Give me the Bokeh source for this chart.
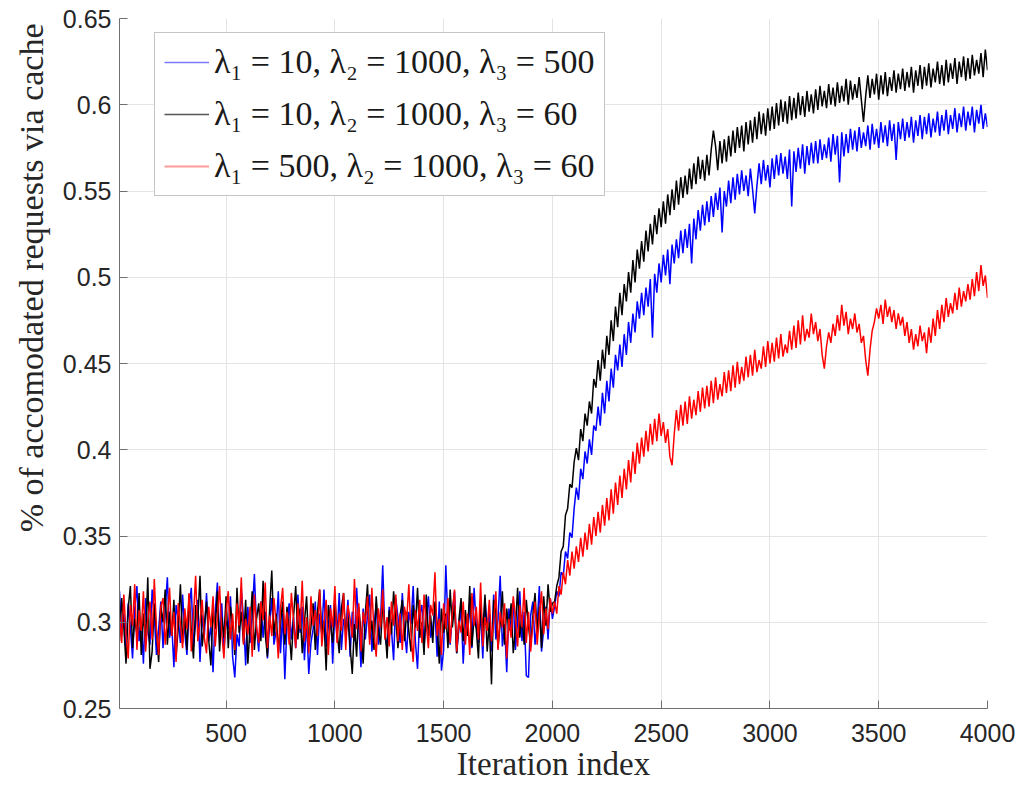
import numpy as np
from bokeh.plotting import figure
from bokeh.models import Legend, LegendItem, FixedTicker, Title
from bokeh.embed import file_html
from bokeh.resources import INLINE

# Iteration index (sampled every 10 iterations)
iterations = list(range(10, 4001, 10))

# lambda1=10, lambda2=1000, lambda3=500 (blue)
blue_vals = [
    .318, .292, .305, .283, .311, .297, .279, .308, .321, .289,
    .301, .276, .314, .295, .287, .319, .303, .281, .296, .312,
    .285, .307, .326, .291, .299, .274, .310, .302, .288, .316,
    .294, .281, .309, .320, .286, .300, .313, .277, .304, .292,
    .317, .289, .298, .271, .306, .323, .290, .311, .284, .301,
    .296, .315, .280, .268, .293, .286, .319, .302, .275, .309,
    .288, .304, .328, .297, .283, .312, .291, .306, .279, .300,
    .314, .287, .295, .318, .282, .305, .267, .299, .311, .290,
    .303, .285, .316, .294, .309, .278, .301, .270, .288, .296,
    .312, .281, .305, .293, .319, .286, .298, .310, .276, .307,
    .291, .317, .284, .302, .295, .313, .280, .306, .289, .320,
    .298, .274, .308, .290, .304, .316, .283, .297, .311, .287,
    .301, .333, .292, .285, .309, .296, .278, .314, .303, .288,
    .317, .295, .282, .306, .299, .321, .289, .273, .304, .310,
    .286, .302, .315, .291, .297, .308, .280, .312, .272, .284,
    .333, .299, .287, .305, .318, .282, .296, .309, .276, .301,
    .293, .311, .285, .320, .298, .288, .306, .279, .314, .297,
    .305, .283, .316, .290, .302, .327, .286, .299, .271, .308,
    .295, .313, .284, .301, .318, .289, .306, .269, .268, .304,
    .312, .287, .299, .321, .283, .296, .309, .290, .314, .302,
    .309, .318, .315, .329, .327, .341, .337, .352, .349, .366,
    .378, .371, .389, .383, .399, .392, .406, .397, .414, .411,
    .425, .414, .433, .421, .440, .428, .447, .436, .455, .446,
    .461, .448, .467, .455, .474, .462, .479, .468, .486, .476,
    .491, .478, .494, .483, .499, .465, .502, .491, .508, .497,
    .513, .501, .516, .496, .519, .508, .522, .511, .527, .514,
    .528, .517, .531, .508, .534, .522, .539, .527, .542, .530,
    .544, .532, .547, .535, .549, .539, .552, .526, .550, .541,
    .556, .543, .558, .545, .560, .548, .562, .550, .559, .547,
    .563, .551, .537, .553, .566, .554, .568, .556, .565, .552,
    .569, .557, .571, .559, .572, .560, .570, .557, .574, .541,
    .573, .561, .575, .563, .577, .560, .576, .565, .578, .566,
    .579, .566, .580, .568, .577, .569, .581, .567, .583, .571,
    .582, .555, .584, .570, .583, .572, .586, .574, .585, .573,
    .587, .575, .584, .576, .588, .574, .589, .577, .586, .575,
    .590, .578, .588, .576, .591, .579, .589, .568, .590, .580,
    .592, .579, .590, .581, .593, .578, .591, .582, .594, .580,
    .593, .583, .595, .581, .592, .584, .596, .582, .594, .585,
    .597, .583, .594, .586, .598, .584, .595, .587, .599, .585,
    .596, .588, .599, .584, .597, .589, .600, .586, .595, .587,
]

# lambda1=10, lambda2=1000, lambda3=60 (black)
black_vals = [
    .289, .314, .297, .276, .308, .321, .285, .302, .293, .317,
    .281, .305, .290, .326, .273, .283, .311, .294, .277, .309,
    .300, .319, .287, .306, .292, .313, .280, .297, .322, .288,
    .304, .284, .316, .295, .279, .310, .301, .327, .286, .298,
    .312, .290, .275, .307, .296, .318, .283, .303, .291, .315,
    .285, .309, .299, .281, .320, .294, .306, .288, .313, .276,
    .297, .318, .284, .302, .311, .289, .324, .293, .280, .307,
    .330, .292, .305, .283, .299, .312, .287, .309, .295, .278,
    .303, .321, .290, .308, .282, .300, .315, .286, .297, .311,
    .284, .306, .319, .293, .301, .272, .310, .298, .288, .314,
    .295, .282, .308, .317, .291, .303, .286, .270, .299, .280,
    .309, .294, .276, .305, .322, .290, .301, .284, .315, .296,
    .287, .311, .298, .279, .307, .293, .318, .302, .285, .304,
    .313, .289, .306, .295, .283, .310, .297, .320, .291, .300,
    .281, .316, .292, .304, .288, .312, .299, .276, .308, .294,
    .305, .285, .319, .297, .310, .282, .301, .314, .289, .307,
    .292, .321, .286, .303, .296, .279, .311, .294, .316, .283,
    .300, .264, .313, .306, .285, .299, .318, .287, .308, .295,
    .311, .282, .296, .320, .291, .304, .287, .313, .298, .286,
    .303, .317, .294, .309, .285, .315, .298, .322, .306, .311,
    .312, .321, .326, .341, .344, .362, .366, .380, .378, .393,
    .401, .394, .412, .405, .421, .414, .428, .421, .441, .436,
    .452, .440, .458, .447, .466, .455, .475, .463, .483, .471,
    .491, .478, .496, .486, .503, .491, .510, .497, .516, .505,
    .521, .509, .527, .515, .531, .519, .536, .525, .540, .529,
    .544, .531, .548, .536, .551, .539, .556, .542, .558, .546,
    .559, .548, .563, .551, .566, .554, .570, .557, .568, .556,
    .571, .559, .574, .585, .576, .562, .579, .566, .580, .567,
    .582, .570, .585, .572, .587, .575, .588, .573, .590, .577,
    .591, .578, .593, .580, .596, .583, .595, .582, .598, .585,
    .599, .586, .601, .588, .603, .590, .602, .589, .605, .591,
    .604, .592, .607, .594, .605, .593, .608, .596, .606, .595,
    .609, .597, .611, .599, .608, .598, .612, .600, .610, .599,
    .613, .601, .611, .602, .615, .600, .614, .603, .612, .604,
    .616, .603, .590, .605, .617, .604, .615, .606, .618, .603,
    .617, .606, .619, .605, .616, .608, .620, .607, .618, .609,
    .621, .608, .619, .610, .622, .607, .620, .611, .623, .609,
    .622, .611, .624, .610, .621, .613, .625, .612, .623, .611,
    .626, .613, .624, .615, .627, .612, .625, .616, .628, .614,
    .627, .615, .629, .617, .626, .618, .630, .616, .632, .620,
]

# lambda1=500, lambda2=1000, lambda3=60 (red)
red_vals = [
    .305, .288, .316, .293, .279, .310, .298, .322, .284, .307,
    .295, .318, .283, .301, .312, .290, .325, .296, .281, .309,
    .314, .287, .302, .320, .292, .306, .277, .311, .299, .285,
    .308, .296, .317, .283, .304, .327, .289, .300, .313, .291,
    .282, .309, .297, .315, .286, .303, .321, .294, .279, .306,
    .318, .290, .305, .284, .311, .298, .326, .287, .302, .293,
    .309, .280, .316, .297, .288, .312, .301, .323, .285, .304,
    .292, .314, .299, .279, .308, .320, .293, .306, .287, .317,
    .301, .285, .311, .296, .324, .289, .303, .282, .315, .298,
    .307, .292, .319, .286, .300, .313, .281, .308, .297, .321,
    .288, .305, .295, .317, .284, .310, .302, .291, .325, .296,
    .311, .283, .306, .299, .315, .287, .320, .294, .280, .308,
    .297, .319, .290, .303, .286, .312, .298, .316, .289, .305,
    .284, .309, .301, .322, .293, .277, .307, .295, .313, .288,
    .316, .299, .285, .310, .304, .329, .292, .302, .281, .311,
    .296, .314, .288, .306, .319, .283, .301, .294, .312, .287,
    .305, .281, .317, .298, .309, .290, .323, .286, .303, .295,
    .313, .289, .300, .318, .284, .306, .297, .311, .279, .302,
    .291, .315, .303, .286, .310, .297, .320, .288, .306, .283,
    .299, .312, .287, .304, .318, .293, .308, .296, .314, .305,
    .312, .305, .321, .316, .329, .322, .336, .327, .341, .331,
    .344, .335, .349, .338, .352, .342, .357, .345, .361, .350,
    .364, .352, .368, .356, .372, .359, .377, .363, .381, .368,
    .385, .372, .389, .377, .394, .381, .399, .386, .404, .392,
    .407, .396, .411, .399, .415, .403, .418, .405, .421, .408,
    .416, .404, .412, .396, .391, .409, .423, .411, .426, .414,
    .428, .415, .431, .418, .429, .420, .434, .422, .436, .424,
    .437, .425, .440, .427, .442, .429, .438, .431, .445, .433,
    .446, .434, .449, .436, .451, .438, .448, .440, .454, .442,
    .455, .443, .458, .445, .452, .447, .460, .448, .463, .450,
    .462, .451, .465, .453, .467, .454, .461, .456, .469, .458,
    .472, .459, .475, .461, .478, .463, .470, .465, .479, .467,
    .474, .463, .470, .455, .447, .460, .468, .462, .473, .466,
    .478, .469, .484, .472, .480, .467, .476, .470, .479, .468,
    .473, .462, .466, .452, .443, .458, .469, .474, .482, .476,
    .484, .473, .487, .477, .483, .474, .481, .470, .479, .472,
    .477, .466, .474, .462, .470, .458, .467, .460, .472, .463,
    .468, .456, .471, .462, .476, .466, .481, .470, .484, .474,
    .488, .477, .485, .479, .491, .481, .494, .483, .492, .486,
    .496, .487, .499, .489, .503, .492, .507, .495, .501, .488,
]

legend_labels = [
    "λ₁ = 10, λ₂ = 1000, λ₃ = 500",
    "λ₁ = 10, λ₂ = 1000, λ₃ = 60",
    "λ₁ = 500, λ₂ = 1000, λ₃ = 60",
]
x_ticks = [500, 1000, 1500, 2000, 2500, 3000, 3500, 4000]
y_ticks = [0.25, 0.3, 0.35, 0.4, 0.45, 0.5, 0.55, 0.6, 0.65]
y_tick_labels = ["0.25", "0.3", "0.35", "0.4", "0.45", "0.5", "0.55", "0.6", "0.65"]

p = figure(width=1015, height=784, x_range=(10, 4000), y_range=(0.25, 0.65),
           output_backend="svg", toolbar_location=None,
           min_border_left=118, min_border_right=28, min_border_top=18,
           min_border_bottom=76)
p.outline_line_color = None
p.background_fill_color = "white"

p.line(iterations, blue_vals, line_color="#0000ff", line_width=1.5)
p.line(iterations, black_vals, line_color="#000000", line_width=1.5)
p.line(iterations, red_vals, line_color="#ff0000", line_width=1.5)

# legend samples (thin, light as in the original); no visible data
nan_pt = np.array([np.nan])
l_blue = p.line(np.array([1.0]), nan_pt, line_color="#7a7aff", line_width=1.5)
l_black = p.line(np.array([1.0]), nan_pt, line_color="#555555", line_width=1.5)
l_red = p.line(np.array([1.0]), nan_pt, line_color="#ff9a9a", line_width=2)

legend = Legend(items=[LegendItem(label=legend_labels[0], renderers=[l_blue]),
                       LegendItem(label=legend_labels[1], renderers=[l_black]),
                       LegendItem(label=legend_labels[2], renderers=[l_red])],
                location=(35, 512))
legend.border_line_color = "#8a8a8a"
legend.border_line_width = 1
legend.background_fill_color = "white"
legend.background_fill_alpha = 1.0
legend.label_text_font = "Liberation Serif"
legend.label_text_font_size = "34px"
legend.label_text_color = "#1a1a1a"
legend.glyph_width = 45
legend.glyph_height = 40
legend.label_height = 40
legend.spacing = 12
legend.padding = 9
legend.margin = 0
legend.label_standoff = 5
p.add_layout(legend)

p.xaxis.ticker = FixedTicker(ticks=x_ticks)
p.yaxis.ticker = FixedTicker(ticks=y_ticks)
p.yaxis.major_label_overrides = {t: s for t, s in zip(y_ticks, y_tick_labels)}
p.xgrid.ticker = FixedTicker(ticks=x_ticks)
p.ygrid.ticker = FixedTicker(ticks=y_ticks)
for g in (p.xgrid, p.ygrid):
    g.grid_line_color = "#e4e4e4"
    g.grid_line_width = 1

for ax in (p.xaxis, p.yaxis):
    ax.axis_line_color = "#707070"
    ax.axis_line_width = 1
    ax.major_tick_line_color = "#707070"
    ax.major_tick_in = 8
    ax.major_tick_out = 0
    ax.minor_tick_line_color = None
    ax.major_label_text_font = "Liberation Sans"
    ax.major_label_text_font_size = "25px"
    ax.major_label_text_color = "#262626"
p.xaxis.major_label_standoff = 15
p.yaxis.major_label_standoff = 8

p.xaxis.axis_label = "Iteration index"
p.xaxis.axis_label_text_font = "Liberation Serif"
p.xaxis.axis_label_text_font_size = "33px"
p.xaxis.axis_label_text_font_style = "normal"
p.xaxis.axis_label_text_color = "#262626"
p.xaxis.axis_label_standoff = 1

ytitle = Title(text="% of accomodated requests via cache", align="right",
               offset=5, text_font="Liberation Serif", text_font_size="34px",
               text_font_style="normal", text_color="#262626", standoff=20)
p.add_layout(ytitle, "left")

open("out.html", "w").write(file_html(p, INLINE))
